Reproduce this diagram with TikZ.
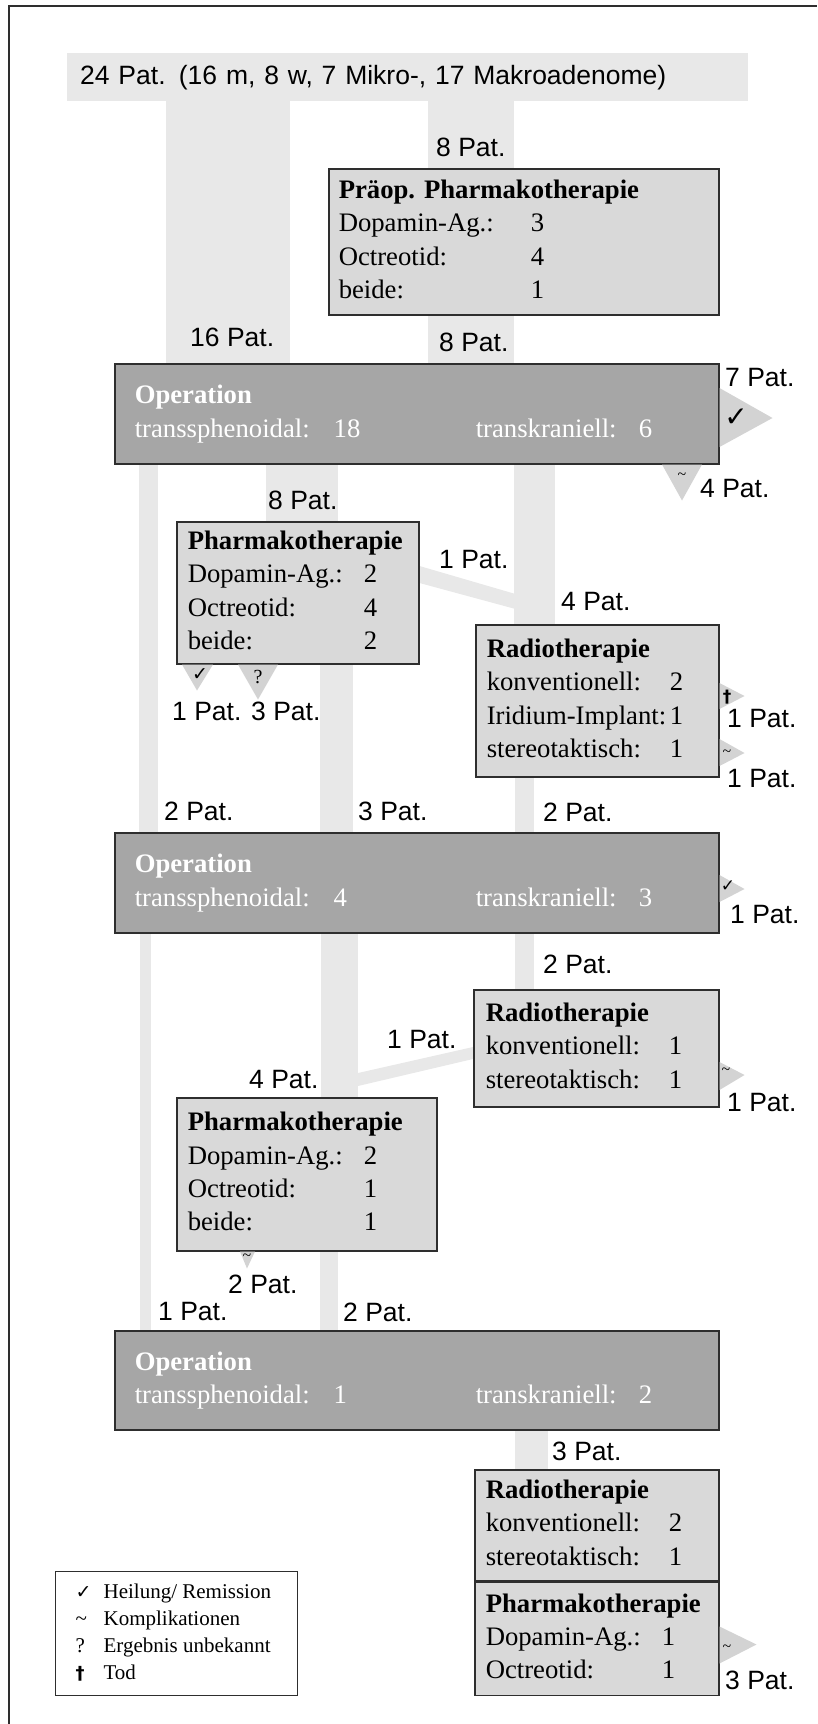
\documentclass[tikz,border=0pt]{standalone}
\usepackage{fontspec}
\setmainfont{Liberation Serif}
\setsansfont{Liberation Sans}
\newfontfamily\symfont{DejaVu Sans}
\usetikzlibrary{backgrounds}

\definecolor{bandgray}{HTML}{E8E8E8}
\definecolor{boxgray}{HTML}{D9D9D9}
\definecolor{opgray}{HTML}{A6A6A6}
\definecolor{tipgray}{HTML}{D3D3D3}
\definecolor{linegray}{HTML}{2E2E2E}

\newcommand{\boxfont}{\fontsize{26.7}{33.3}\selectfont}
\newcommand{\patfont}{\sffamily\fontsize{26.5}{30}\selectfont}

\begin{document}
\begin{tikzpicture}[
    x=1pt, y=-1pt,
    block/.style={draw=linegray, line width=1.5pt, fill=boxgray, anchor=north west, inner xsep=11pt, inner ysep=0pt, font=\boxfont},
    opblock/.style={block, fill=opgray, text=white, inner xsep=20pt, minimum height=100pt},
    band/.style={fill=bandgray},
    tip/.style={fill=tipgray},
    patlbl/.style={anchor=base west, inner sep=0pt, font=\patfont},
    tipsym/.style={inner sep=0pt, font=\fontsize{16}{16}\selectfont}
]
    \useasboundingbox (0,0) rectangle (817,1724);
    \draw[linegray, line width=1.5pt] (9,1724) -- (9,6) -- (817,6);

    \node[band, anchor=north west, minimum width=681pt, minimum height=48pt, inner xsep=13pt, inner ysep=0pt, text width=655pt, align=left, font=\patfont] (total) at (67,53) {24 Pat. (16 m, 8 w, 7 Mikro-, 17 Makroadenome)};

    \node[block, inner xsep=10pt, minimum height=146pt] (preop) at (328,168) {\begin{tabular}{@{}p{192pt}@{}p{178pt}@{}}
        \multicolumn{2}{@{}l@{}}{\textbf{Präop. Pharmakotherapie}}\\
        Dopamin-Ag.: & 3\\
        Octreotid: & 4\\
        beide: & 1
    \end{tabular}};

    \node[opblock] (op1) at (114,363) {\begin{tabular}{@{}p{199pt}@{}p{142pt}@{}p{163pt}@{}p{60pt}@{}}
        \multicolumn{4}{@{}l@{}}{\textbf{Operation}}\\
        transsphenoidal: & 18 & transkraniell: & 6
    \end{tabular}};

    \node[block, minimum height=142pt] (pharma1) at (176,521) {\begin{tabular}{@{}p{176pt}@{}p{44pt}@{}}
        \multicolumn{2}{@{}l@{}}{\textbf{Pharmakotherapie}}\\
        Dopamin-Ag.: & 2\\
        Octreotid: & 4\\
        beide: & 2
    \end{tabular}};

    \node[block, minimum height=152pt] (radio1) at (475,624) {\begin{tabular}{@{}p{183pt}@{}p{38pt}@{}}
        \multicolumn{2}{@{}l@{}}{\textbf{Radiotherapie}}\\
        konventionell: & 2\\
        Iridium-Implant: & 1\\
        stereotaktisch: & 1
    \end{tabular}};

    \node[opblock] (op2) at (114,832) {\begin{tabular}{@{}p{199pt}@{}p{142pt}@{}p{163pt}@{}p{60pt}@{}}
        \multicolumn{4}{@{}l@{}}{\textbf{Operation}}\\
        transsphenoidal: & 4 & transkraniell: & 3
    \end{tabular}};

    \node[block, inner xsep=12pt, minimum height=117pt] (radio2) at (473,989) {\begin{tabular}{@{}p{183pt}@{}p{38pt}@{}}
        \multicolumn{2}{@{}l@{}}{\textbf{Radiotherapie}}\\
        konventionell: & 1\\
        stereotaktisch: & 1
    \end{tabular}};

    \node[block, minimum height=153pt] (pharma2) at (176,1097) {\begin{tabular}{@{}p{176pt}@{}p{62pt}@{}}
        \multicolumn{2}{@{}l@{}}{\textbf{Pharmakotherapie}}\\
        Dopamin-Ag.: & 2\\
        Octreotid: & 1\\
        beide: & 1
    \end{tabular}};

    \node[opblock, minimum height=99pt] (op3) at (114,1330) {\begin{tabular}{@{}p{199pt}@{}p{142pt}@{}p{163pt}@{}p{60pt}@{}}
        \multicolumn{4}{@{}l@{}}{\textbf{Operation}}\\
        transsphenoidal: & 1 & transkraniell: & 2
    \end{tabular}};

    \node[block, minimum height=111pt] (radio3) at (474,1469) {\begin{tabular}{@{}p{183pt}@{}p{39pt}@{}}
        \multicolumn{2}{@{}l@{}}{\textbf{Radiotherapie}}\\
        konventionell: & 2\\
        stereotaktisch: & 1
    \end{tabular}};
    \node[block, minimum height=113pt] (pharma3) at (radio3.south west) {\begin{tabular}{@{}p{176pt}@{}p{46pt}@{}}
        \multicolumn{2}{@{}l@{}}{\textbf{Pharmakotherapie}}\\
        Dopamin-Ag.: & 1\\
        Octreotid: & 1
    \end{tabular}};

    \node[draw=linegray, line width=1.2pt, fill=white, anchor=north west, inner xsep=20pt, inner ysep=0pt, minimum height=124pt, font=\fontsize{21}{27}\selectfont] (legend) at (55,1571) {\begin{tabular}{@{}p{28pt}@{}p{174pt}@{}}
        {\symfont\fontsize{19}{19}\selectfont ✓} & Heilung/ Remission\\
        \textasciitilde & Komplikationen\\
        ? & Ergebnis unbekannt\\
        {\symfont\bfseries\fontsize{18}{18}\selectfont †} & Tod
    \end{tabular}};

    \begin{pgfonlayer}{background}
        \fill[band] (166,0 |- total.south) rectangle (290,0 |- op1.north);
        \fill[band] (428,0 |- total.south) rectangle (514,0 |- op1.north);
        \fill[band] (139,0 |- op1.south) rectangle (158,0 |- op2.north);
        \fill[band] (266,0 |- op1.south) rectangle (338,0 |- pharma1.north);
        \fill[band] (320,0 |- pharma1.south) rectangle (353,0 |- op2.north);
        \fill[band] (514,0 |- op1.south) rectangle (555,0 |- radio1.north);
        \fill[band] (515,0 |- radio1.south) rectangle (534,0 |- op2.north);
        \fill[band] (pharma1.north east) ++(0,45) -- ++(96,28) -- ++(0,15) -- ++(-96,-26) -- cycle;
        \fill[band] (140,0 |- op2.south) rectangle (151,0 |- op3.north);
        \fill[band] (321,0 |- op2.south) rectangle (358,0 |- pharma2.north);
        \fill[band] (515,0 |- op2.south) rectangle (534,0 |- radio2.north);
        \fill[band] (radio2.north west) ++(0,58) -- ++(-115,26) -- ++(0,13) -- ++(115,-27) -- cycle;
        \fill[band] (320,0 |- pharma2.south) rectangle (338,0 |- op3.north);
        \fill[band] (515,0 |- op3.south) rectangle (548,0 |- radio3.north);
    \end{pgfonlayer}

    \fill[tip] (op1.north east) ++(0,25) -- ++(53,30) -- ++(-53,29) -- cycle;
    \fill[tip] (op1.south west) ++(548,0) -- ++(40,0) -- ++(-20,36) -- cycle;
    \fill[tip] (pharma1.south west) ++(6,0) -- ++(31,0) -- ++(-16,26) -- cycle;
    \fill[tip] (pharma1.south west) ++(62,0) -- ++(40,0) -- ++(-20,35) -- cycle;
    \fill[tip] (radio1.north east) ++(0,59) -- ++(25,13) -- ++(-25,13) -- cycle;
    \fill[tip] (radio1.north east) ++(0,115) -- ++(25,14) -- ++(-25,13) -- cycle;
    \fill[tip] (op2.north east) ++(0,43) -- ++(25,14) -- ++(-25,13) -- cycle;
    \fill[tip] (radio2.north east) ++(0,73) -- ++(25,13) -- ++(-25,15) -- cycle;
    \fill[tip] (pharma2.south west) ++(64,0) -- ++(15,0) -- ++(-8,17) -- cycle;
    \fill[tip] (pharma3.north east) ++(0,45) -- ++(37,18) -- ++(-37,19) -- cycle;

    \node[tipsym, font=\symfont\fontsize{28}{28}\selectfont] (s1) at (736,418) {✓};
    \node[tipsym] (s2) at (682,476) {\textasciitilde};
    \node[tipsym, font=\symfont\fontsize{19}{19}\selectfont] (s3) at (200,675) {✓};
    \node[tipsym, font=\fontsize{20}{20}\selectfont] (s4) at (258,677) {?};
    \node[tipsym, font=\symfont\bfseries\fontsize{17}{17}\selectfont] (s5) at (727,697) {†};
    \node[tipsym] (s6) at (727,753) {\textasciitilde};
    \node[tipsym, font=\symfont\fontsize{17}{17}\selectfont] (s7) at (728,886) {✓};
    \node[tipsym] (s8) at (726,1071) {\textasciitilde};
    \node[tipsym] (s9) at (247,1257) {\textasciitilde};
    \node[tipsym] (s10) at (727,1648) {\textasciitilde};

    \foreach \x/\y/\n [count=\i] in {436/156/8, 190/346/16, 439/351/8, 725/386/7, 700/497/4,
        268/509/8, 439/568/1, 561/610/4, 172/720/1, 251/720/3, 727/727/1, 727/787/1,
        164/820/2, 358/820/3, 543/821/2, 730/923/1, 543/973/2, 387/1048/1, 249/1088/4,
        727/1111/1, 228/1293/2, 158/1320/1, 343/1321/2, 552/1460/3, 725/1689/3}
        \node[patlbl] (pat\i) at (\x,\y) {\n{} Pat.};
\end{tikzpicture}
\end{document}
